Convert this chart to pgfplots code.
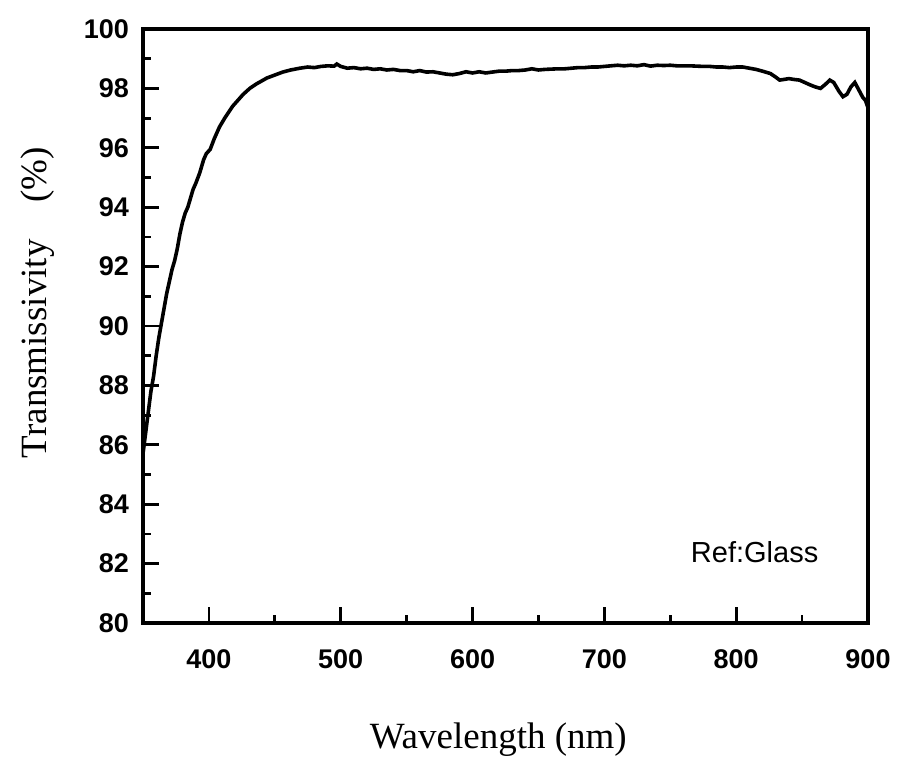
\documentclass[border=0pt]{standalone}
\usepackage{fontspec}
\setmainfont{Liberation Serif}
\newfontfamily\arial{Liberation Sans}
\usepackage{pgfplots}
\pgfplotsset{compat=1.18}

\begin{document}
\begin{tikzpicture}
\begin{axis}[
    name=ax,
    scale only axis,
    width=362.5pt,
    height=297pt,
    xmin=350, xmax=900,
    ymin=80, ymax=100,
    xtick={400,500,600,700,800,900},
    ytick={80,82,...,100},
    minor x tick num=1,
    minor y tick num=1,
    tick align=inside,
    tick pos=left,
    major tick length=8pt,
    minor tick length=4pt,
    every tick/.style={black, line width=1.4pt},
    axis line style={line width=1.6pt},
    /pgf/number format/assume math mode=true,
    tick label style={font=\arial\bfseries\fontsize{13.5}{16}\selectfont},
    xticklabel shift=10pt,
    yticklabel shift=3.5pt,
    label style={font=\fontsize{18.5}{22}\selectfont},
    xlabel={Wavelength (nm)},
    xlabel style={at={(axis description cs:0.49,-0.197)}, anchor=center},
    ylabel={Transmissivity\hspace{1em}(\%)},
    ylabel style={at={(axis description cs:-0.1448,0.5396)}, anchor=center},
]
\addplot[black, line width=1.8pt] coordinates {
(350,85.7) (352,86.4) (354,87.1) (356,87.8) (358,88.3) (360,89.0) (362,89.6)
(364,90.1) (366,90.6) (368,91.1) (370,91.5) (372,91.9) (374,92.2) (376,92.6)
(378,93.1) (380,93.5) (382,93.8) (384,94.0) (386,94.3) (388,94.6) (390,94.8)
(393,95.15) (396,95.6) (398,95.8) (401,95.95) (404,96.3) (408,96.7) (412,97.0)
(415,97.2) (418,97.4) (422,97.6) (426,97.8) (431,98.0) (436,98.15) (440,98.25)
(444,98.35) (450,98.45) (456,98.55) (462,98.62) (469,98.68) (475,98.72)
(480,98.7) (485,98.74) (490,98.76) (495,98.75) (497,98.82) (500,98.74)
(505,98.68) (510,98.7) (515,98.66) (520,98.68) (525,98.64) (530,98.66)
(535,98.62) (540,98.64) (545,98.6) (550,98.6) (555,98.56) (560,98.6)
(565,98.55) (570,98.56) (575,98.52) (580,98.48) (585,98.46) (590,98.5)
(595,98.56) (600,98.52) (605,98.56) (610,98.52) (615,98.55) (620,98.58)
(625,98.58) (630,98.6) (635,98.6) (640,98.62) (645,98.66) (650,98.62)
(655,98.64) (660,98.65) (665,98.66) (670,98.66) (675,98.68) (680,98.7)
(685,98.7) (690,98.72) (695,98.72) (700,98.74) (705,98.76) (710,98.78)
(715,98.76) (720,98.78) (725,98.76) (730,98.8) (735,98.75) (740,98.78)
(745,98.77) (750,98.78) (755,98.76) (760,98.76) (765,98.76) (770,98.75)
(775,98.74) (780,98.74) (785,98.72) (790,98.72) (795,98.7) (800,98.72)
(805,98.72) (810,98.68) (815,98.64) (820,98.58) (826,98.5) (830,98.38)
(833,98.28) (836,98.3) (840,98.33) (844,98.3) (848,98.28) (852,98.2)
(856,98.12) (860,98.05) (864,98.0) (868,98.15) (871,98.28) (874,98.2)
(878,97.9) (881,97.72) (884,97.8) (887,98.05) (890,98.2) (893,97.95)
(896,97.7) (898,97.6) (900,97.35)
};
\node[font=\arial\fontsize{14.5}{17}\selectfont] at (axis cs:814,82.39) {Ref:Glass};
\end{axis}
\pgfresetboundingbox
\path[use as bounding box] ([shift={(-71.5pt,-71.5pt)}]ax.south west) rectangle ([shift={(15pt,14.5pt)}]ax.north east);
\end{tikzpicture}
\end{document}
